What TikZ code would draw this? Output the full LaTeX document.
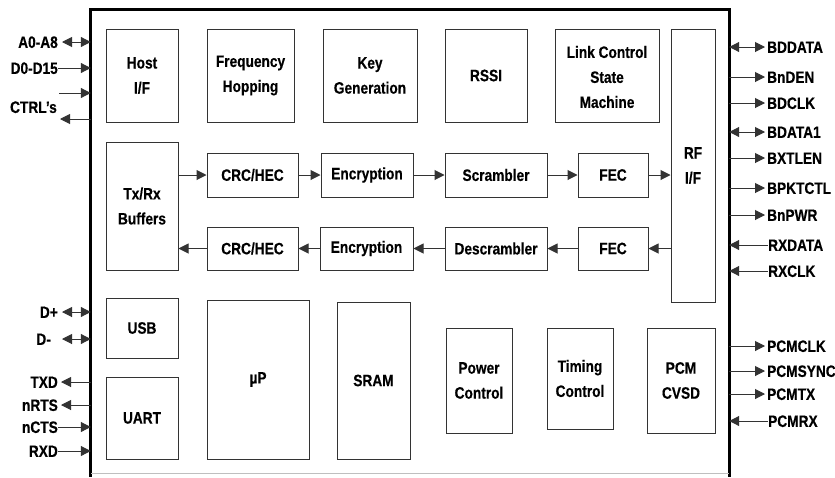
\documentclass[tikz,border=0pt]{standalone}
\usepackage{fontspec}
\setmainfont[FakeStretch=0.83, BoldFeatures={FakeBold=0.4}]{Liberation Sans}
\usetikzlibrary{arrows.meta}
\begin{document}
\begin{tikzpicture}[x=1pt,y=-1pt,
  blk/.style={draw=black!80, line width=1pt, rectangle, inner sep=0pt, align=center,
    font=\bfseries\fontsize{16.5}{25}\selectfont, text=black},
  lbl/.style={inner sep=0pt, text height=11.8pt, text depth=0pt,
    font=\bfseries\fontsize{16.5}{18}\selectfont, text=black},
  wire/.style={draw=black!80, line width=1pt},
  tip/.style={-{Triangle[length=10pt,width=10pt]}},
  dtip/.style={{Triangle[length=10pt,width=10pt]}-{Triangle[length=10pt,width=10pt]}},
  outline/.style={draw=black, line width=2.7pt}
]
\useasboundingbox (0,0) rectangle (835,477);

% chip outline
\node[inner sep=0pt, minimum width=638pt, minimum height=467pt] (chip) at (410,243.5) {};
\draw[outline] (chip.south west) -- (chip.north west) -- (chip.north east) -- (chip.south east);
\coordinate (bl) at (91,473);
\coordinate (br) at (729,473);
\draw[draw=black!25, line width=0.8pt] (bl) -- (br);

% top row
\node[blk, minimum width=72pt, minimum height=93pt] (host) at (142,75.5) {Host\\I/F};
\node[blk, minimum width=87pt, minimum height=93pt] (freq) at (250.5,75.5) {Frequency\\Hopping};
\node[blk, minimum width=94pt, minimum height=93pt] (key) at (370,75.5) {Key\\Generation};
\node[blk, minimum width=82pt, minimum height=93pt] (rssi) at (486,75.5) {RSSI};
\node[blk, minimum width=104pt, minimum height=93pt] (link) at (607,75.5) {};
\node[align=center, inner sep=0pt, font=\bfseries\fontsize{16.5}{25}\selectfont] (linktxt) at (607,77) {Link Control\\State\\Machine};
\node[blk, minimum width=44pt, minimum height=273pt] (rf) at (693,165.5) {RF\\I/F};

% data path
\node[blk, minimum width=72pt, minimum height=128pt] (buf) at (142,206) {Tx/Rx\\Buffers};
\node[blk, minimum width=91pt, minimum height=44pt] (crc1) at (252.5,175) {CRC/HEC};
\node[blk, minimum width=92pt, minimum height=44pt] (enc1) at (367,175) {Encryption};
\node[blk, minimum width=102pt, minimum height=44pt] (scr) at (496,175) {Scrambler};
\node[blk, minimum width=70pt, minimum height=44pt] (fec1) at (613,175) {FEC};
\node[blk, minimum width=91pt, minimum height=43pt] (crc2) at (252.5,248.5) {CRC/HEC};
\node[blk, minimum width=93pt, minimum height=43pt] (enc2) at (366.5,248.5) {Encryption};
\node[blk, minimum width=102pt, minimum height=43pt] (desc) at (496,248.5) {Descrambler};
\node[blk, minimum width=70pt, minimum height=43pt] (fec2) at (613,248.5) {FEC};

\draw[wire, tip] (buf.east |- crc1) -- (crc1.west);
\draw[wire, tip] (crc1.east) -- (enc1.west);
\draw[wire, tip] (enc1.east) -- (scr.west);
\draw[wire, tip] (scr.east) -- (fec1.west);
\draw[wire, tip] (fec1.east) -- (rf.west |- fec1);
\draw[wire, tip] (rf.west |- fec2) -- (fec2.east);
\draw[wire, tip] (fec2.west) -- (desc.east);
\draw[wire, tip] (desc.west) -- (enc2.east);
\draw[wire, tip] (enc2.west) -- (crc2.east);
\draw[wire, tip] (crc2.west) -- (buf.east |- crc2);

% bottom row
\node[blk, minimum width=72pt, minimum height=60pt] (usb) at (142,328) {USB};
\node[blk, minimum width=72pt, minimum height=82pt] (uart) at (142,418) {UART};
\node[blk, minimum width=102pt, minimum height=159pt] (up) at (258,379.5) {µP};
\node[blk, minimum width=73pt, minimum height=157pt] (sram) at (373.5,380.5) {SRAM};
\node[blk, minimum width=66pt, minimum height=105pt] (pwr) at (479,380.5) {Power\\Control};
\node[blk, minimum width=66pt, minimum height=101pt] (tim) at (580,378.5) {Timing\\Control};
\node[blk, minimum width=68pt, minimum height=105pt] (pcm) at (681,380.5) {PCM\\CVSD};

% left signals
\node[lbl, anchor=east] (a08) at (58,42) {A0-A8};
\coordinate (a08s) at (62,42);
\draw[wire, dtip] (a08s) -- (a08s -| chip.west);
\node[lbl, anchor=east] (d015) at (58,68) {D0-D15};
\draw[wire, tip] (d015.east) -- (d015 -| chip.west);
\node[lbl, anchor=east] (ctrl) at (57,107) {CTRL's};
\coordinate (ci) at (59,93);
\coordinate (co) at (60,119);
\draw[wire, tip] (ci) -- (ci -| chip.west);
\draw[wire, tip] (co -| chip.west) -- (co);

\node[lbl, anchor=east] (dp) at (58,312) {D+};
\coordinate (dps) at (62,312);
\draw[wire, dtip] (dps) -- (dps -| chip.west);
\node[lbl, anchor=east] (dm) at (51,339) {D-};
\coordinate (dms) at (62,339);
\draw[wire, dtip] (dms) -- (dms -| chip.west);

\node[lbl, anchor=east] (txd) at (58,382) {TXD};
\draw[wire, tip] (txd -| chip.west) -- ([xshift=3pt]txd.east);
\node[lbl, anchor=east] (nrts) at (58,405) {nRTS};
\draw[wire, tip] (nrts -| chip.west) -- ([xshift=3pt]nrts.east);
\node[lbl, anchor=east] (ncts) at (58,427) {nCTS};
\draw[wire, tip] (ncts.east) -- (ncts -| chip.west);
\node[lbl, anchor=east] (rxd) at (58,451) {RXD};
\draw[wire, tip] (rxd.east) -- (rxd -| chip.west);

% right signals
\node[lbl, anchor=west] (bddata) at (767,47) {BDDATA};
\draw[wire, dtip] (bddata -| chip.east) -- ([xshift=-2pt]bddata.west);
\node[lbl, anchor=west] (bnden) at (767,77) {BnDEN};
\draw[wire, tip] (bnden -| chip.east) -- ([xshift=-2pt]bnden.west);
\node[lbl, anchor=west] (bdclk) at (767,103) {BDCLK};
\draw[wire, tip] (bdclk -| chip.east) -- ([xshift=-2pt]bdclk.west);
\node[lbl, anchor=west] (bdata1) at (767,132) {BDATA1};
\draw[wire, dtip] (bdata1 -| chip.east) -- ([xshift=-2pt]bdata1.west);
\node[lbl, anchor=west] (bxtlen) at (767,158) {BXTLEN};
\draw[wire, tip] (bxtlen -| chip.east) -- ([xshift=-2pt]bxtlen.west);
\node[lbl, anchor=west] (bpktctl) at (767,188) {BPKTCTL};
\draw[wire, tip] (bpktctl -| chip.east) -- ([xshift=-2pt]bpktctl.west);
\node[lbl, anchor=west] (bnpwr) at (767,215) {BnPWR};
\draw[wire, tip] (bnpwr -| chip.east) -- ([xshift=-2pt]bnpwr.west);
\node[lbl, anchor=west] (rxdata) at (768,245) {RXDATA};
\draw[wire, tip] (rxdata.west) -- (rxdata -| chip.east);
\node[lbl, anchor=west] (rxclk) at (768,271) {RXCLK};
\draw[wire, tip] (rxclk.west) -- (rxclk -| chip.east);
\node[lbl, anchor=west] (pcmclk) at (767,346) {PCMCLK};
\draw[wire, tip] (pcmclk -| chip.east) -- ([xshift=-2pt]pcmclk.west);
\node[lbl, anchor=west] (pcmsync) at (767,371) {PCMSYNC};
\draw[wire, tip] (pcmsync -| chip.east) -- ([xshift=-2pt]pcmsync.west);
\node[lbl, anchor=west] (pcmtx) at (767,394) {PCMTX};
\draw[wire, tip] (pcmtx -| chip.east) -- ([xshift=-2pt]pcmtx.west);
\node[lbl, anchor=west] (pcmrx) at (768,421) {PCMRX};
\draw[wire, tip] (pcmrx.west) -- (pcmrx -| chip.east);
\end{tikzpicture}
\end{document}
